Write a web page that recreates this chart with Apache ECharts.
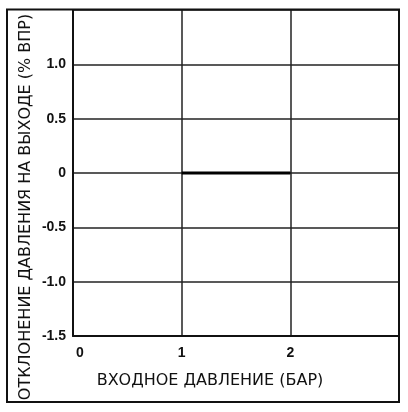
<!DOCTYPE html>
<html><head><meta charset="utf-8">
<script src="https://cdn.jsdelivr.net/npm/echarts@6/dist/echarts.min.js"></script>
<style>html,body{margin:0;padding:0;background:#fff}#c{width:408px;height:412px}</style>
</head><body><div id="c"></div>
<script>
var xTicks = [0, 1, 2];
var yTicks = [-1.5, -1.0, -0.5, 0, 0.5, 1.0];
var seriesX = [1, 2];
var seriesY = [0, 0];
var xTitle = 'ВХОДНОЕ ДАВЛЕНИЕ (БАР)';
var yTitle = 'ОТКЛОНЕНИЕ ДАВЛЕНИЯ НА ВЫХОДЕ (% ВПР)';

var chart = echarts.init(document.getElementById('c'), null, {renderer: 'canvas'});
var tickFont = {fontFamily: 'Liberation Sans', fontWeight: 'bold', fontSize: 14, color: '#111'};
chart.setOption({
  animation: false,
  backgroundColor: '#fff',
  grid: {left: 73, top: 10, right: 9, bottom: 76, containLabel: false},
  xAxis: {
    type: 'value', min: 0, max: 3, interval: 1,
    axisLine: {show: true, onZero: false, lineStyle: {color: '#111', width: 2}},
    axisTick: {show: false},
    splitLine: {show: true, lineStyle: {color: '#222', width: 1.5}},
    axisLabel: Object.assign({}, tickFont, {
      margin: 10,
      formatter: function (v) {
        if (xTicks.indexOf(v) < 0) return '';
        return v === 0 ? '{z|0}' : String(v);
      },
      rich: {z: Object.assign({}, tickFont, {padding: [0, 0, 0, 14]})}
    })
  },
  yAxis: {
    type: 'value', min: -1.5, max: 1.5, interval: 0.5,
    axisLine: {show: true, onZero: false, lineStyle: {color: '#111', width: 2}},
    axisTick: {show: false},
    splitLine: {show: true, lineStyle: {color: '#222', width: 1.5}},
    axisLabel: Object.assign({}, tickFont, {
      margin: 7,
      formatter: function (v) {
        var ok = yTicks.some(function (t) { return Math.abs(t - v) < 1e-9; });
        if (!ok) return '';
        return Math.abs(v) < 1e-9 ? '0' : v.toFixed(1);
      }
    })
  },
  series: [{
    type: 'line',
    data: seriesX.map(function (x, i) { return [x, seriesY[i]]; }),
    showSymbol: false, symbol: 'none',
    lineStyle: {color: '#000', width: 3},
    z: 5
  }],
  graphic: [
    {type: 'rect', shape: {x: 7, y: 9.5, width: 392, height: 392.5}, style: {fill: 'none', stroke: '#111', lineWidth: 2}, z: 100},
    {type: 'text', x: 210, y: 381, style: {text: xTitle, fontFamily: 'DejaVu Sans', fontSize: 16, fill: '#111', align: 'center', verticalAlign: 'middle'}},
    {type: 'text', x: 26, y: 207, rotation: Math.PI / 2, style: {text: yTitle, fontFamily: 'DejaVu Sans', fontSize: 16, fill: '#111', align: 'center', verticalAlign: 'middle'}}
  ]
});
</script></body></html>
